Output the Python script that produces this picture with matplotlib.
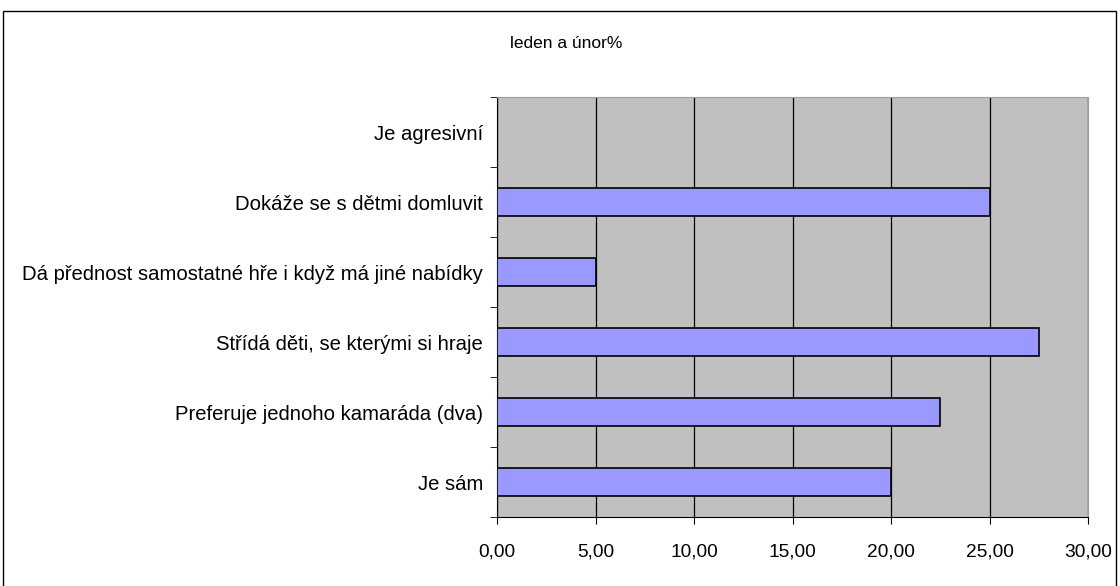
import matplotlib.pyplot as plt
from matplotlib.patches import Rectangle
plt.rcParams['font.family'] = ['Liberation Sans', 'DejaVu Sans']

categories = ['Je sám', 'Preferuje jednoho kamaráda (dva)', 'Střídá děti, se kterými si hraje',
              'Dá přednost samostatné hře i když má jiné nabídky', 'Dokáže se s dětmi domluvit',
              'Je agresivní']
values = [20.0, 22.5, 27.5, 5.0, 25.0, 0.0]
xticks = [0, 5, 10, 15, 20, 25, 30]

W, H = 1120, 586
fig = plt.figure(figsize=(W / 100, H / 100), dpi=100)
ax = fig.add_axes([497 / W, 1 - 517 / H, (1088 - 497) / W, (517 - 97) / H])

# outer chart frame
fig.patches.append(Rectangle((3 / W, -0.01), (1116 - 3) / W, 1 - 11 / H + 0.01,
                             transform=fig.transFigure, fill=False, edgecolor='black', lw=1))

ax.set_facecolor('#c0c0c0')
pos = list(range(len(categories)))
ax.barh(pos, values, height=0.4, color='#9999ff', edgecolor='black', linewidth=1.2, zorder=3)

ax.set_xlim(0, 30)
ax.set_ylim(-0.5, len(categories) - 0.5)
ax.set_xticks(xticks)
ax.set_xticklabels([f'{v:.2f}'.replace('.', ',') for v in xticks], fontsize=13.8)
ax.xaxis.grid(True, color='black', lw=0.9, zorder=1)

ax.set_yticks(pos)
ax.set_yticklabels(categories, fontsize=14.6)
ax.set_yticks([p - 0.5 for p in pos] + [len(pos) - 0.5], minor=True)
ax.tick_params(axis='y', which='major', length=0, pad=10)
ax.tick_params(axis='y', which='minor', length=5, direction='out')
ax.tick_params(axis='x', length=5, direction='out', pad=14)

for s in ['top', 'right']:
    ax.spines[s].set_color('#a0a0a0')
for s in ['left', 'bottom']:
    ax.spines[s].set_color('black')

fig.text(566 / W, 1 - 43 / H, 'leden a únor%', ha='center', va='center', fontsize=12.5)

fig.savefig('out.png', dpi=100)
